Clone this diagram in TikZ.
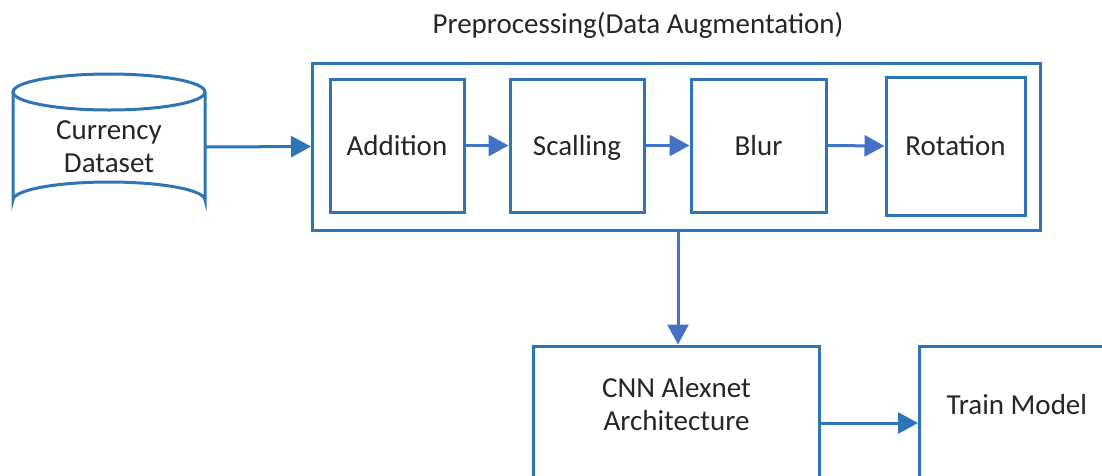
\documentclass[tikz,border=0pt]{standalone}
\usepackage{fontspec}
\setmainfont{Carlito}
\usetikzlibrary{arrows.meta,shapes.geometric}
\definecolor{boxblue}{HTML}{2E75B6}
\definecolor{arrblue}{HTML}{4472C4}
\tikzset{
  box/.style={draw=boxblue,line width=3pt,fill=white,inner sep=0pt},
  lbl/.style={font=\fontsize{29}{33}\selectfont,text=black!85,align=center},
  conn/.style={draw=boxblue,line width=3pt,-{Triangle[length=20pt,width=21pt]}},
  iconn/.style={draw=arrblue,line width=3pt,-{Triangle[length=20pt,width=21pt]}}
}
\begin{document}
\begin{tikzpicture}[x=1pt,y=-1pt]
\useasboundingbox (0,0) rectangle (1102,475);
\clip (0,0) rectangle (1102,475);
% cylinder
\draw[boxblue,line width=3pt,fill=white] (13,92) -- (13,200) arc[start angle=180,end angle=360,x radius=96,y radius=18] -- (205,92);
\draw[boxblue,line width=3pt] (109,92) ellipse[x radius=96,y radius=18];
\node[lbl] (ds) at (109,147) {Currency\\Dataset};
\coordinate (dsr) at (205,147);
% outer
\node[box,minimum width=728pt,minimum height=167pt] (pre) at (676.5,146.5) {};
\node[lbl,anchor=base] (title) at (638,33) {Preprocessing(Data Augmentation)};
\node[box,minimum width=134pt,minimum height=133pt] (add) at (397,145.5) {};
\node[lbl,anchor=base] (addt) at (397,155) {Addition};
\node[box,minimum width=134pt,minimum height=133pt] (sca) at (577,145.5) {};
\node[lbl,anchor=base] (scat) at (577,155) {Scalling};
\node[box,minimum width=135pt,minimum height=133pt] (blur) at (758.5,145.5) {};
\node[lbl,anchor=base] (blurt) at (758.5,155) {Blur};
\node[box,minimum width=139pt,minimum height=138pt] (rot) at (955.5,146) {};
\node[lbl,anchor=base] (rott) at (955.5,155) {Rotation};
\node[box,minimum width=286pt,minimum height=200pt] (cnn) at (676.5,446) {};
\node[lbl] (cnnt) at (676.5,404) {CNN Alexnet\\Architecture};
\node[box,minimum width=220pt,minimum height=200pt] (train) at (1029.5,446) {};
\node[lbl,anchor=west] (traint) at (943,405) {Train Model};
% connectors
\draw[conn] (dsr) -- (pre.west);
\draw[iconn] (add.east) -- (sca.west);
\draw[iconn] (sca.east) -- (blur.west);
\draw[iconn] (blur.east) -- (rot.west);
\draw[iconn] (pre.south -| 678,0) -- (cnn.north -| 678,0);
\draw[conn] (cnn.east |- 0,423) -- (train.west |- 0,423);
\end{tikzpicture}
\end{document}
